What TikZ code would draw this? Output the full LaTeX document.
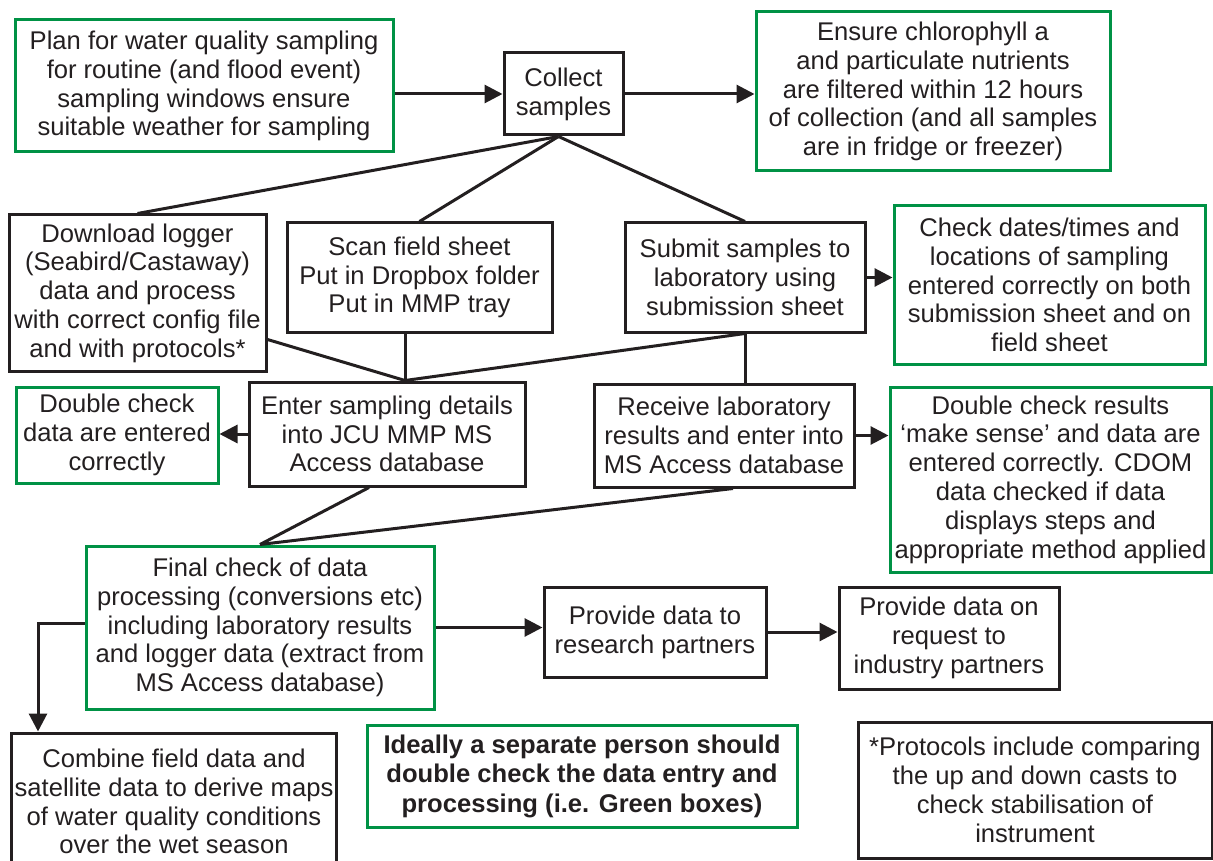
\documentclass[tikz,border=0pt]{standalone}
\usepackage{fontspec}
\setmainfont{Liberation Sans}
\usetikzlibrary{arrows.meta}
\definecolor{boxgreen}{RGB}{0,146,69}
\definecolor{ink}{RGB}{35,31,32}
\tikzset{
  box/.style={draw=ink, line width=3pt, align=center, inner sep=0pt, text=ink,
    font=\fontsize{25.6}{28.8}\selectfont},
  gbox/.style={box, draw=boxgreen},
  ln/.style={draw=ink, line width=3pt},
  arr/.style={ln, -{Triangle[length=18pt,width=18pt]}},
}
\begin{document}
\begin{tikzpicture}[x=1pt,y=-1pt]
\useasboundingbox (0,0) rectangle (1213,861);
% nodes
\node[gbox, minimum width=378, minimum height=132] (plan) at (204,86)
  {Plan for water quality sampling\\for routine (and flood event)\\sampling windows ensure\\suitable weather for sampling};
\node[box, minimum width=119, minimum height=82] (col) at (563.5,94) {Collect\\samples};
\node[gbox, minimum width=354, minimum height=159] (ens) at (933,91.5)
  {Ensure chlorophyll a\\and particulate nutrients\\are filtered within 12 hours\\of collection (and all samples\\are in fridge or freezer)};
\node[box, minimum width=257, minimum height=156] (dl) at (137.5,293)
  {Download logger\\(Seabird/Castaway)\\data and process\\with correct config file\\and with protocols*};
\node[box, minimum width=265, minimum height=109] (scan) at (419.5,277.5)
  {Scan field sheet\\Put in Dropbox folder\\Put in MMP tray};
\node[box, minimum width=240, minimum height=109] (sub) at (745,277.5)
  {Submit samples to\\laboratory using\\submission sheet};
\node[gbox, minimum width=311, minimum height=158] (chk) at (1049.5,285)
  {Check dates/times and\\locations of sampling\\entered correctly on both\\submission sheet and on\\field sheet};
\node[gbox, minimum width=202, minimum height=96] (dcd) at (117,435)
  {Double check\\data are entered\\correctly};
\node[box, minimum width=276, minimum height=104] (ent) at (387,434)
  {Enter sampling details\\into JCU MMP MS\\Access database};
\node[box, minimum width=260, minimum height=103] (rec) at (724,435.5)
  {Receive laboratory\\results and enter into\\MS Access database};
\node[gbox, minimum width=321, minimum height=185] (dcr) at (1050.5,479.5)
  {Double check results\\‘make sense’ and data are\\entered correctly. CDOM\\data checked if data\\displays steps and\\appropriate method applied};
\node[gbox, minimum width=348, minimum height=163] (fin) at (260,627.5)
  {Final check of data\\processing (conversions etc)\\including laboratory results\\and logger data (extract from\\MS Access database)};
\node[box, minimum width=222, minimum height=90] (res) at (655,632)
  {Provide data to\\research partners};
\node[box, minimum width=220, minimum height=102] (req) at (949,638)
  {Provide data on\\request to\\industry partners};
\node[box, minimum width=325, minimum height=137] (comb) at (174,801.5)
  {Combine field data and\\satellite data to derive maps\\of water quality conditions\\over the wet season};
\node[gbox, minimum width=430, minimum height=102, font=\fontsize{25.6}{29.5}\selectfont\bfseries] (ideal) at (582,776)
  {Ideally a separate person should\\double check the data entry and\\processing (i.e. Green boxes)};
\node[box, minimum width=354, minimum height=136] (prot) at (1035,790)
  {*Protocols include comparing\\the up and down casts to\\check stabilisation of\\instrument};
% helper coordinates
\coordinate (colB) at ([xshift=-5pt]col.south);
\coordinate (entT) at ([xshift=18pt]ent.north);
\coordinate (entB) at ([xshift=-18pt]ent.south);
\coordinate (recB) at ([xshift=9pt]rec.south);
\coordinate (dlR) at ([yshift=33pt]dl.south east);
\coordinate (finL) at ([yshift=4.5pt]fin.west);
\coordinate (combT) at ([xshift=28pt]comb.north west);
% connectors
\draw[arr] (col.west -| plan.east) -- (col.west);
\draw[arr] (col.east) -- (col.east -| ens.west);
\draw[ln] (colB) -- (dl.north);
\draw[ln] (colB) -- (scan.north);
\draw[ln] (colB) -- (sub.north);
\draw[arr] (sub.east) -- (sub.east -| chk.west);
\draw[ln] (dlR) -- (entT);
\draw[ln] (scan.south -| entT) -- (entT);
\draw[ln] (sub.south) -- (entT);
\draw[ln] (sub.south) -- (sub.south |- rec.north);
\draw[arr] (ent.west) -- (ent.west -| dcd.east);
\draw[arr] (rec.east) -- (rec.east -| dcr.west);
\draw[ln] (entB) -- (fin.north);
\draw[ln] (recB) -- (fin.north);
\draw[arr] (fin.east) -- (fin.east -| res.west);
\draw[arr] (res.east) -- (res.east -| req.west);
\draw[arr] (finL) -| (combT);
\end{tikzpicture}
\end{document}
